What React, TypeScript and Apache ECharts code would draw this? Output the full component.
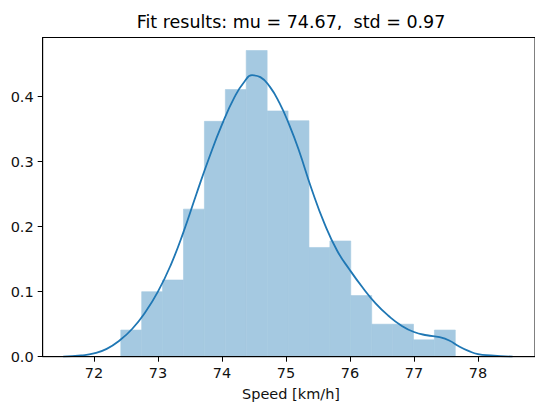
import React, { useEffect, useRef } from "react";
import * as echarts from "echarts";

const titleText = "Fit results: mu = 74.67,  std = 0.97";
const xLabel = "Speed [km/h]";

const xTicks = [72, 73, 74, 75, 76, 77, 78];
const yTicks = [0, 0.1, 0.2, 0.3, 0.4];

const binEdges = [
  72.42, 72.746, 73.073, 73.399, 73.726, 74.053, 74.379, 74.706, 75.033,
  75.359, 75.686, 76.012, 76.339, 76.666, 76.992, 77.319, 77.645,
];
const binDensity = [
  0.041, 0.1, 0.118, 0.227, 0.362, 0.411, 0.471, 0.378, 0.363, 0.168, 0.178,
  0.094, 0.05, 0.05, 0.026, 0.041,
];

const kdeX = [
  71.52, 71.8, 72.0, 72.2, 72.4, 72.6, 72.8, 73.0, 73.2, 73.4, 73.6, 73.8,
  74.0, 74.2, 74.35, 74.47, 74.6, 74.75, 74.9, 75.05, 75.2, 75.4, 75.6, 75.8,
  76.0, 76.2, 76.4, 76.6, 76.8, 77.0, 77.2, 77.4, 77.55, 77.7, 77.85, 78.0,
  78.2, 78.54,
];
const kdeY = [
  0.0, 0.002, 0.005, 0.012, 0.025, 0.043, 0.068, 0.1, 0.141, 0.192, 0.25,
  0.306, 0.357, 0.4, 0.423, 0.433, 0.43, 0.415, 0.39, 0.357, 0.318, 0.258,
  0.205, 0.163, 0.133, 0.106, 0.082, 0.063, 0.048, 0.038, 0.033, 0.03, 0.025,
  0.016, 0.009, 0.004, 0.002, 0.0,
];

const FONT = "DejaVu Sans";

export default function App() {
  const ref = useRef<HTMLDivElement>(null);
  useEffect(() => {
    if (!ref.current) return;
    const chart = echarts.init(ref.current, undefined, { renderer: "svg" });
    const histData = binDensity.map((h, i) => [binEdges[i], binEdges[i + 1], h]);
    const kdeData = kdeX.map((x, i) => [x, kdeY[i]]);
    chart.setOption({
      animation: false,
      backgroundColor: "#ffffff",
      grid: {
        left: 42.7,
        right: -4.3,
        top: 37.5,
        bottom: 45.3,
        show: true,
        borderColor: "#000",
        borderWidth: 1,
        backgroundColor: "transparent",
        z: 5,
      },
      xAxis: {
        type: "value",
        min: 71.2,
        max: 78.89,
        z: 5,
        splitLine: { show: false },
        axisLine: { show: true, onZero: false, lineStyle: { color: "#000", width: 1 } },
        axisTick: {
          show: true,
          length: 5,
          customValues: xTicks,
          lineStyle: { color: "#000", width: 1 },
        },
        axisLabel: {
          customValues: xTicks,
          margin: 9,
          fontFamily: FONT,
          fontSize: 14.5,
          color: "#111",
          formatter: (v: number) => String(v),
        },
      },
      yAxis: {
        type: "value",
        min: 0,
        max: 0.491,
        z: 5,
        splitLine: { show: false },
        axisLine: { show: true, lineStyle: { color: "#000", width: 1 } },
        axisTick: {
          show: true,
          length: 5,
          customValues: yTicks,
          lineStyle: { color: "#000", width: 1 },
        },
        axisLabel: {
          customValues: yTicks,
          margin: 9,
          fontFamily: FONT,
          fontSize: 14.5,
          color: "#111",
          formatter: (v: number) => v.toFixed(1),
        },
      },
      graphic: [
        {
          type: "text",
          x: 291,
          y: 22,
          style: {
            text: titleText,
            fontFamily: FONT,
            fontSize: 17.5,
            fill: "#000",
            textAlign: "center",
            textVerticalAlign: "middle",
          },
        },
        {
          type: "text",
          x: 291,
          y: 393.5,
          style: {
            text: xLabel,
            fontFamily: FONT,
            fontSize: 14.5,
            fill: "#111",
            textAlign: "center",
            textVerticalAlign: "middle",
          },
        },
      ],
      series: [
        {
          type: "custom",
          data: histData,
          encode: { x: [0, 1], y: 2 },
          renderItem: (params: any, api: any) => {
            const p0 = api.coord([api.value(0), api.value(2)]);
            const p1 = api.coord([api.value(1), 0]);
            return {
              type: "rect",
              shape: { x: p0[0], y: p0[1], width: p1[0] - p0[0], height: p1[1] - p0[1] },
              style: { fill: "#a5c9e1", stroke: "#a5c9e1", lineWidth: 0.6 },
            };
          },
          z: 2,
        },
        {
          type: "line",
          data: kdeData,
          showSymbol: false,
          smooth: 0.5,
          lineStyle: { color: "#1f77b4", width: 1.8 },
          z: 3,
        },
      ],
    });
    return () => chart.dispose();
  }, []);
  return (
    <div
      ref={ref}
      style={{ position: "absolute", left: 0, top: 0, width: 535, height: 402 }}
    />
  );
}
